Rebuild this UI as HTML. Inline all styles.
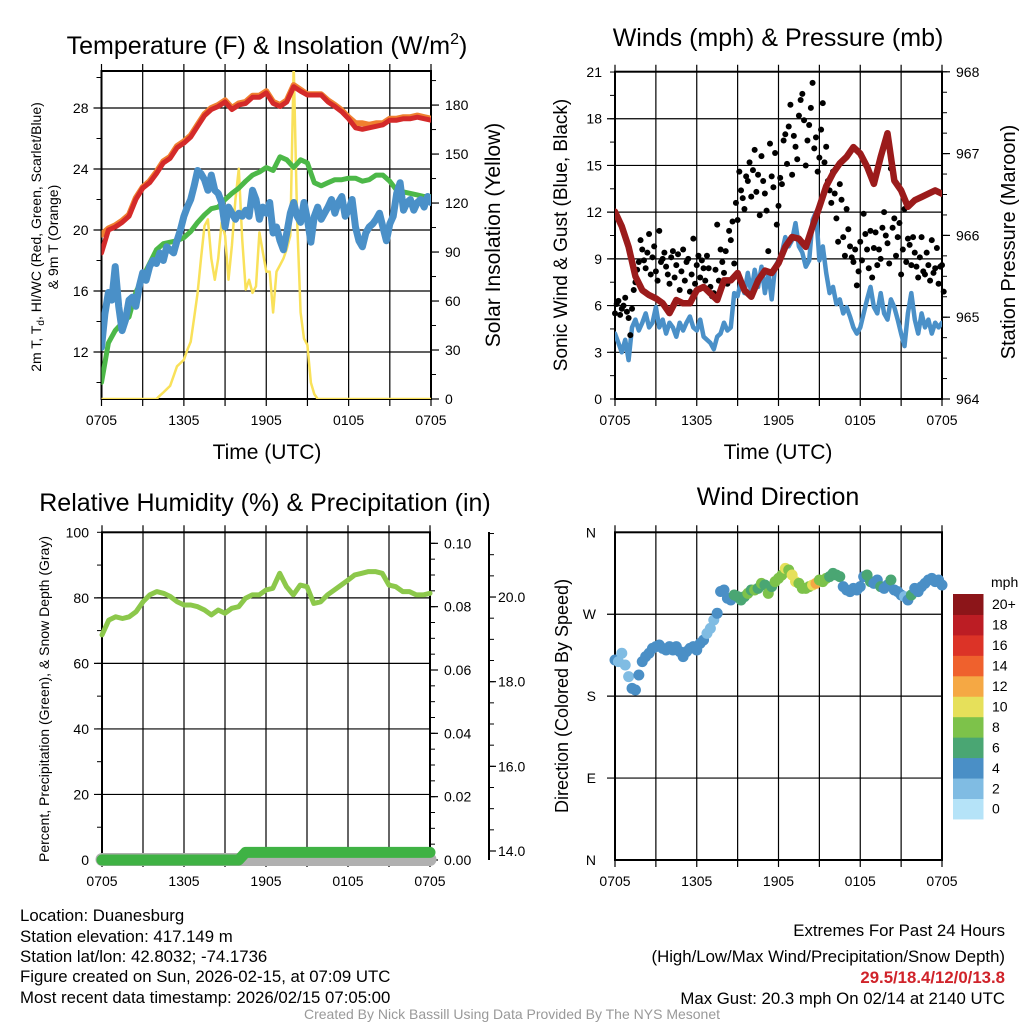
<!DOCTYPE html>
<html><head><meta charset="utf-8"><style>
html,body{margin:0;padding:0;background:#fff}
svg text{font-family:"Liberation Sans",Arial,sans-serif;fill:#000}
</style></head><body>
<svg id="s" width="1024" height="1024" viewBox="0 0 1024 1024" xmlns="http://www.w3.org/2000/svg">
<defs>
<clipPath id="c1"><rect x="101.5" y="71" width="329.5" height="328"/></clipPath>
<clipPath id="c2"><rect x="615" y="71.7" width="327" height="327.3"/></clipPath>
</defs>
<g id="g"></g>
<text x="267" y="54" font-size="25" text-anchor="middle">Temperature (F) &amp; Insolation (W/m<tspan font-size="16" dy="-10">2</tspan><tspan dy="10">)</tspan></text>
<text x="778" y="46" font-size="25" text-anchor="middle">Winds (mph) &amp; Pressure (mb)</text>
<text x="265" y="511" font-size="25" text-anchor="middle">Relative Humidity (%) &amp; Precipitation (in)</text>
<text x="778" y="505" font-size="25" text-anchor="middle">Wind Direction</text>
<text x="267" y="459" font-size="21" text-anchor="middle">Time (UTC)</text>
<text x="778" y="459" font-size="21" text-anchor="middle">Time (UTC)</text>
<text transform="translate(41,237) rotate(-90)" font-size="14" text-anchor="middle">2m T, T<tspan font-size="10" dy="3">d</tspan><tspan dy="-3">, HI/WC (Red, Green, Scarlet/Blue)</tspan></text>
<text transform="translate(58,237) rotate(-90)" font-size="14" text-anchor="middle">&amp; 9m T (Orange)</text>
<text transform="translate(500,235) rotate(-90)" font-size="21" text-anchor="middle">Solar Insolation (Yellow)</text>
<text transform="translate(567,235) rotate(-90)" font-size="19" text-anchor="middle">Sonic Wind &amp; Gust (Blue, Black)</text>
<text transform="translate(1015,242) rotate(-90)" font-size="20" text-anchor="middle">Station Pressure (Maroon)</text>
<text transform="translate(49,699) rotate(-90)" font-size="14" text-anchor="middle">Percent, Precipitation (Green), &amp; Snow Depth (Gray)</text>
<text transform="translate(568,696) rotate(-90)" font-size="18" text-anchor="middle">Direction (Colored By Speed)</text>
<text x="991" y="587" font-size="14">mph</text>
<g font-size="16.8">
<text x="20" y="921">Location: Duanesburg</text>
<text x="20" y="942">Station elevation: 417.149 m</text>
<text x="20" y="962">Station lat/lon: 42.8032; -74.1736</text>
<text x="20" y="982">Figure created on Sun, 2026-02-15, at 07:09 UTC</text>
<text x="20" y="1003">Most recent data timestamp: 2026/02/15 07:05:00</text>
</g>
<g font-size="16.8" text-anchor="end">
<text x="1005" y="936">Extremes For Past 24 Hours</text>
<text x="1005" y="962">(High/Low/Max Wind/Precipitation/Snow Depth)</text>
<text x="1005" y="983" font-weight="bold" style="fill:#d0232a">29.5/18.4/12/0/13.8</text>
<text x="1005" y="1004">Max Gust: 20.3 mph On 02/14 at 2140 UTC</text>
</g>
<text x="512" y="1019" font-size="14" text-anchor="middle" style="fill:#999">Created By Nick Bassill Using Data Provided By The NYS Mesonet</text>
</svg>
<script>
// ---- data (30-min series: 49 values, 15-min series: 97 values) ----
const timeTicks = ["0705","1305","1905","0105","0705"];
const tempTicks = [12,16,20,24,28];
const solarTicks = [0,30,60,90,120,150,180];
const windTicks = [0,3,6,9,12,15,18,21];
const presTicks = [964,965,966,967,968];
const rhTicks = [0,20,40,60,80,100];
const precipTicks = ["0.00","0.02","0.04","0.06","0.08","0.10"];
const snowTicks = ["14.0","16.0","18.0","20.0"];
const dirTicks = ["N","E","S","W","N"];
const speedBins = ["0","2","4","6","8","10","12","14","16","18","20+"];
const temp2m = [18.5,20.0,20.2,20.5,20.9,22.0,22.75,23.1,23.7,24.4,24.7,25.4,25.7,26.1,26.8,27.5,27.9,28.1,28.4,27.9,28.2,28.3,28.7,28.7,29.0,28.3,28.1,28.4,29.4,29.1,28.85,28.85,28.85,28.4,28.1,27.75,27.3,26.7,26.6,26.7,26.8,26.9,27.2,27.2,27.3,27.3,27.4,27.3,27.2];
const temp9m = [19.7,20.1,20.3,20.6,21.0,22.1,22.8,23.2,23.8,24.5,24.8,25.5,25.8,26.2,26.9,27.6,28.0,28.2,28.5,28.0,28.3,28.4,28.8,28.8,29.1,28.4,28.2,28.5,29.5,29.2,28.9,28.9,28.9,28.5,28.2,27.85,27.4,27.0,27.0,26.9,27.0,27.0,27.3,27.3,27.4,27.4,27.5,27.4,27.3];
const dewpt = [10.0,12.6,13.4,13.9,14.3,15.9,16.9,17.8,18.7,19.1,19.2,19.3,19.5,19.9,20.5,21.0,21.4,21.5,22.0,22.4,22.75,23.2,23.6,23.8,24.1,23.9,24.8,24.6,24.1,24.6,24.4,23.1,22.9,23.1,23.3,23.3,23.4,23.4,23.2,23.3,23.6,23.6,23.2,22.6,22.5,22.4,22.3,22.2,22.2];
const windChill = [12.3,14.5,15.9,15.4,17.6,15.0,13.4,14.1,15.4,15.6,15.0,16.3,17.2,16.7,17.6,18.0,17.8,18.5,18.0,18.9,18.7,18.5,19.3,20.0,20.9,21.5,22.0,22.9,23.9,23.7,23.3,22.6,23.6,22.6,22.4,21.8,20.2,21.5,21.1,20.7,21.1,20.9,21.3,20.9,22.6,22.0,20.7,21.5,21.1,21.8,19.8,20.2,19.3,18.7,19.8,21.1,21.8,20.9,20.5,21.8,20.7,19.2,20.9,21.5,20.7,21.1,21.5,22.0,21.1,21.8,22.2,20.9,21.3,22.0,20.2,19.3,18.9,19.8,20.2,20.4,20.7,21.1,20.2,19.3,20.4,20.9,22.4,23.1,21.3,21.8,22.0,21.3,21.8,22.0,21.5,22.2,21.8];
const solar = [0,0,0,0,0,0,0,0,0,0,0,0,0,0,0,0,0,2,4,6,8,14,20,22,24,30,35,50,65,86,106,110,86,73,86,108,100,73,94,122,141,98,67,73,65,69,102,90,78,78,53,78,82,86,92,100,205,110,53,37,33,10,3,0,0,0,0,0,0,0,0,0,0,0,0,0,0,0,0,0,0,0,0,0,0,0,0,0,0,0,0,0,0,0,0,0,0];
const windSpd = [4.2,3.6,3.0,3.8,2.5,4.6,5.1,4.4,4.9,5.5,4.6,4.9,5.9,4.6,5.1,4.2,4.9,4.6,4.0,4.9,4.4,4.9,5.3,4.6,4.4,5.1,4.0,3.8,3.6,3.2,4.0,4.2,4.9,4.4,4.6,6.8,6.6,7.6,6.8,8.1,6.8,8.3,7.2,8.5,6.8,8.1,6.4,8.5,8.9,9.4,10.4,9.8,10.2,11.3,9.8,9.4,8.5,8.9,11.5,12.0,8.9,9.8,8.1,6.8,7.2,6.1,6.4,5.5,5.9,5.3,4.6,4.2,4.6,5.5,6.4,7.2,5.9,5.5,6.8,5.5,5.1,6.4,5.9,5.1,4.2,3.4,5.5,6.8,5.1,4.2,5.5,4.6,5.1,4.2,4.9,4.6,4.9];
const gust = [5.5,6.3,5.8,6.5,5.2,5.8,7.5,8.8,9.6,8.4,10.6,9.1,8.2,10.8,9.0,8.5,7.4,9.5,8.6,7.0,9.6,8.8,6.9,10.3,8.6,7.8,8.4,9.2,7.2,6.8,11.2,9.6,8.1,7.4,10.2,8.7,11.5,13.4,12.2,14.0,13.0,16.0,14.4,15.6,13.2,9.5,14.3,15.8,12.4,13.8,17.0,17.5,14.4,16.2,18.2,19.6,15.0,17.6,20.3,16.8,15.5,19.0,16.2,13.4,14.6,11.6,13.8,10.4,12.2,9.8,8.8,7.3,10.1,11.9,9.6,10.8,9.7,8.6,9.0,12.0,10.0,14.8,11.6,10.4,8.0,12.2,10.3,8.6,9.4,7.8,10.4,8.0,8.6,10.2,8.4,7.4,8.6];
const gustB = [6.1,5.4,6.0,5.6,4.1,7.0,8.3,10.2,8.9,9.4,8.0,9.8,7.6,8.8,9.4,8.0,9.1,7.8,9.3,8.2,7.6,9.0,8.0,7.4,9.2,8.9,7.6,8.4,6.6,8.3,7.6,8.8,9.5,10.8,11.4,12.6,14.6,12.9,14.3,15.2,14.7,13.3,11.8,14.0,12.1,16.4,13.6,11.2,14.2,16.6,15.1,18.9,16.9,15.4,19.2,17.9,16.6,18.7,16.1,14.6,17.3,15.2,14.0,12.6,13.2,10.1,12.8,9.2,10.9,9.1,9.6,8.2,8.9,10.6,8.4,7.8,10.7,9.6,11.0,10.5,8.7,11.0,9.2,11.3,9.6,8.8,9.9,10.4,8.5,9.1,8.2,9.4,7.6,8.1,9.7,8.5,6.9];
const pressure = [966.29,966.11,965.86,965.50,965.33,965.27,965.23,965.17,965.05,965.21,965.17,965.17,965.33,965.37,965.29,965.21,965.45,965.45,965.54,965.33,965.25,965.45,965.57,965.54,965.66,965.86,965.98,965.96,965.86,966.11,966.35,966.60,966.76,966.88,966.96,967.08,967.00,966.84,966.63,966.96,967.25,966.67,966.55,966.35,966.43,966.47,966.51,966.55,966.51];
const relHum = [68.7,73.2,74.2,73.7,74.2,75.8,78.8,80.9,81.9,81.4,80.4,78.8,77.8,77.8,77.3,76.3,74.8,76.3,75.3,76.8,77.3,79.9,80.9,80.9,82.4,82.9,87.5,83.4,80.9,83.9,83.4,78.3,78.8,80.9,82.4,83.9,85.4,87.0,87.5,88.0,88.0,87.5,83.9,83.4,81.9,81.9,80.9,80.9,81.4];
const precip = [0,0,0,0,0,0,0,0,0,0,0,0,0,0,0,0,0,0,0,0,0,0.0024,0.0024,0.0024,0.0024,0.0024,0.0024,0.0024,0.0024,0.0024,0.0024,0.0024,0.0024,0.0024,0.0024,0.0024,0.0024,0.0024,0.0024,0.0024,0.0024,0.0024,0.0024,0.0024,0.0024,0.0024,0.0024,0.0024,0.0024];
const snowDepth = [13.8,13.8,13.8,13.8,13.8,13.8,13.8,13.8,13.8,13.8,13.8,13.8,13.8,13.8,13.8,13.8,13.8,13.8,13.8,13.8,13.8,13.8,13.8,13.8,13.8,13.8,13.8,13.8,13.8,13.8,13.8,13.8,13.8,13.8,13.8,13.8,13.8,13.8,13.8,13.8,13.8,13.8,13.8,13.8,13.8,13.8,13.8,13.8,13.8];
const windDir = [219.7,217.9,227.1,214.2,201.4,188.6,186.8,203.2,217.9,223.4,227.1,232.5,234.4,236.2,232.5,230.7,234.4,230.7,234.4,228.9,223.4,228.9,232.5,234.4,230.7,238.0,241.7,249.0,254.5,263.6,271.0,295.0,296.6,287.5,285.6,291.1,289.3,285.6,289.3,292.9,296.6,296.6,298.4,303.9,302.1,292.9,300.3,305.8,309.4,313.1,320.4,318.6,313.1,305.8,303.9,298.4,298.4,300.3,302.1,303.9,307.6,305.8,309.4,311.3,314.9,313.1,311.3,300.3,296.6,294.8,298.4,296.6,300.3,311.3,313.1,305.8,303.9,307.6,300.3,298.4,302.1,307.6,296.6,294.8,291.1,289.3,285.6,291.1,298.4,294.8,300.3,303.9,307.6,309.4,305.8,307.6,302.1];
const speedColors = ["#b5e3f8","#80bce3","#4a8fc6","#4aa673","#7dc24a","#e6e05a","#f5a844","#ef612d","#dc3327","#bc1d24","#8c1519"];

// ---- helpers ----
const NS="http://www.w3.org/2000/svg";
const G=document.getElementById('g');
function mk(tag,attrs,parent){const e=document.createElementNS(NS,tag);for(const k in attrs)e.setAttribute(k,attrs[k]);(parent||G).appendChild(e);return e;}
function xScale(P,h){return P.x0+(P.x1-P.x0)*h/24;}
function pathD(P,arr,step,yf){return arr.map((v,i)=>(i?'L':'M')+xScale(P,i*step).toFixed(1)+','+yf(v).toFixed(1)).join(' ');}

const P1={x0:101.5,x1:431,y0:71,y1:399};
const P2={x0:615,x1:942,y0:71.7,y1:399};
const P3={x0:102,x1:430,y0:532.3,y1:860};
const P4={x0:615,x1:942,y0:532.3,y1:860};
const tempY=v=>352-(v-12)*15.25;
const solarY=s=>399-s*1.633;
const spdY=v=>399-v*15.57;
const presY=p=>399-(p-964)*81.8;
const rhY=r=>860-r*3.277;
const prY=p=>860-p*3166.7;
const snowY=s=>851-(s-14)*42.33;
const dirY=d=>860-d*0.9103;

function frame(P,name,hLines){
  const f=mk('g',{});
  
  
  for(let k=0;k<=8;k++){const x=xScale(P,k*3);mk('line',{x1:x,x2:x,y1:P.y0-7,y2:P.y1+7,stroke:'#000','stroke-width':1.2},f);}
  hLines.forEach(y=>mk('line',{x1:P.x0-8,x2:P.x1,y1:y,y2:y,stroke:'#000','stroke-width':1.2},f));
  mk('rect',{x:P.x0,y:P.y0,width:P.x1-P.x0,height:P.y1-P.y0,fill:'none',stroke:'#000','stroke-width':2},f);
  timeTicks.forEach((t,k)=>{const tx=mk('text',{x:xScale(P,k*6),y:P.y1+26,'font-size':14,'text-anchor':'middle'},f);tx.textContent=t;
    
    });
}
function leftLabels(P,vals,yf,name){vals.forEach(v=>{const t=mk('text',{x:P.x0-13,y:yf(v)+5,'font-size':14,'text-anchor':'end'});t.textContent=v;
  
  });}
function rightAxis(P,vals,yf,name,minorStep,lo,hi,fmt){
  vals.forEach(v=>{const y=yf(v);mk('line',{x1:P.x1,x2:P.x1+8,y1:y,y2:y,stroke:'#000','stroke-width':1.2});
    const t=mk('text',{x:P.x1+14,y:y+5,'font-size':14});t.textContent=fmt?fmt(v):v;
    
    });
  for(let v=lo;v<=hi+1e-9;v+=minorStep){const y=yf(v);if(y>=P.y0-1)mk('line',{x1:P.x1,x2:P.x1+5,y1:y,y2:y,stroke:'#000','stroke-width':1});}
}
function leftMinor(P,yf,lo,hi,step){for(let v=lo;v<=hi+1e-9;v+=step){const y=yf(v);if(y>=P.y0-1&&y<=P.y1)mk('line',{x1:P.x0-5,x2:P.x0,y1:y,y2:y,stroke:'#000','stroke-width':1});}}
function series(P,arr,step,yf,color,w,name,clip){
  const p=mk('path',{d:pathD(P,arr,step,yf),fill:'none',stroke:color,'stroke-width':w,'stroke-linejoin':'round','stroke-linecap':'round'});
  if(clip)p.setAttribute('clip-path',clip);
  
  
  return p;
}

// ---- Panel 1 ----
frame(P1,'temperature',tempTicks.map(tempY));
leftMinor(P1,tempY,10,30,2);
leftLabels(P1,tempTicks,tempY,'temperature-y-tick-label');
rightAxis(P1,solarTicks,solarY,'solar-y-tick-label',15,0,195);
series(P1,solar,0.25,solarY,'#f9e15a',2.5,'solar-insolation-line','url(#c1)');
series(P1,dewpt,0.5,tempY,'#4cb848',5,'dewpoint-line','url(#c1)');
series(P1,windChill,0.25,tempY,'#4a90c8',7,'wind-chill-line','url(#c1)');
series(P1,temp9m,0.5,tempY,'#f08030',6,'temp-9m-line','url(#c1)');
series(P1,temp2m,0.5,tempY,'#d42a2a',5,'temp-2m-line','url(#c1)');

// ---- Panel 2 ----
frame(P2,'winds',windTicks.slice(1,7).map(spdY));
leftMinor(P2,spdY,0,21,1.5);
leftLabels(P2,windTicks,spdY,'wind-y-tick-label');
rightAxis(P2,presTicks,presY,'pressure-y-tick-label',0.25,964,968);
series(P2,windSpd,0.25,spdY,'#4a90c8',4.5,'wind-speed-line','url(#c2)');
gust.forEach((v,i)=>{const c=mk('circle',{cx:xScale(P2,i*0.25),cy:spdY(v),r:3,fill:'#000'});
  
  });
gustB.forEach((v,i)=>{const c=mk('circle',{cx:xScale(P2,i*0.25+0.125),cy:spdY(v),r:3,fill:'#000'});
  
  });
series(P2,pressure,0.5,presY,'#9b1b1b',6.5,'pressure-line','url(#c2)');

// ---- Panel 3 ----
frame(P3,'humidity',[20,40,60,80].map(rhY));
leftMinor(P3,rhY,0,100,10);
leftLabels(P3,rhTicks,rhY,'humidity-y-tick-label');
rightAxis(P3,precipTicks.map(Number),prY,'precip-y-tick-label',0.005,0,0.1,v=>v.toFixed(2));
mk('line',{x1:489,x2:489,y1:532,y2:860,stroke:'#000','stroke-width':2});
snowTicks.forEach(s=>{const y=snowY(Number(s));mk('line',{x1:489,x2:496,y1:y,y2:y,stroke:'#000','stroke-width':1.2});
  const t=mk('text',{x:498,y:y+5,'font-size':14});t.textContent=s;
  
  });
for(let s=13.5;s<=21.6;s+=0.5){const y=snowY(s);if(y>=533&&y<=860)mk('line',{x1:489,x2:494,y1:y,y2:y,stroke:'#000','stroke-width':1});}
series(P3,snowDepth,0.5,snowY,'#b0b0b0',13,'snow-depth-line');
series(P3,precip,0.5,prY,'#3fb244',11,'precipitation-line');
series(P3,relHum,0.5,rhY,'#8cc84b',5,'relative-humidity-line');

// ---- Panel 4 ----
frame(P4,'direction',[90,180,270].map(dirY));
dirTicks.forEach((d,k)=>{const t=mk('text',{x:P4.x0-19,y:dirY(k*90)+5,'font-size':14,'text-anchor':'end'});t.textContent=d;
  
  });
windDir.forEach((d,i)=>{const b=Math.min(10,Math.floor(windSpd[i]/2));
  const c=mk('circle',{cx:xScale(P4,i*0.25),cy:dirY(d),r:5.5,fill:speedColors[b]});
  
  });
// colorbar
const cb=mk('g',{});


const cbTop=594,cbH=20.45;
speedBins.forEach((lab,k)=>{const j=10-k;const y=cbTop+j*cbH;
  mk('rect',{x:953,y:y,width:30.5,height:cbH+0.5,fill:speedColors[k]},cb);
  const t=mk('text',{x:992,y:y+cbH/2+5,'font-size':14},cb);t.textContent=lab;
  
  });
</script>
</body></html>
